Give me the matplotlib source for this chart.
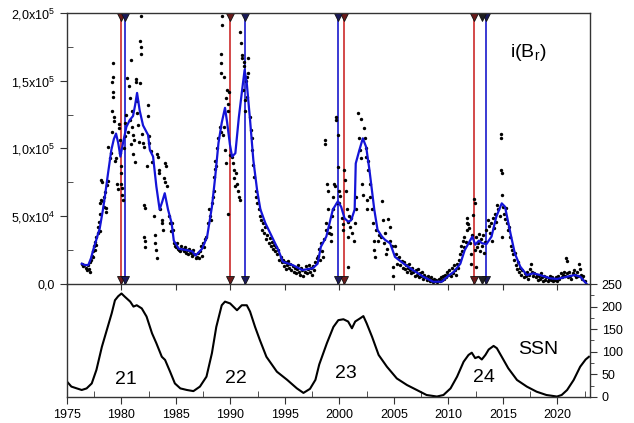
import numpy as np
import matplotlib
matplotlib.use('Agg')
import matplotlib.pyplot as plt
from matplotlib.ticker import MultipleLocator, FixedLocator, FixedFormatter

plt.rcParams['font.family'] = ['Liberation Sans', 'DejaVu Sans']
plt.rcParams['mathtext.fontset'] = 'custom'
plt.rcParams['mathtext.rm'] = 'Liberation Sans'
plt.rcParams['mathtext.it'] = 'Liberation Sans:italic'
plt.rcParams['mathtext.default'] = 'regular'

# ---------------- data ----------------
# i(Br) monthly dots (year, value in thousands)
dots_c21 = [(1976.4,15),(1976.5,13),(1976.6,14),(1976.7,12),(1976.8,10),(1976.9,14),(1977.0,11),(1977.1,9),(1977.1,16),(1977.2,18),(1977.3,21),(1977.35,24),(1977.4,20),(1977.5,28),(1977.55,25),(1977.6,31),(1977.65,35),(1977.7,29),(1977.8,38),(1977.85,42),(1977.9,46),(1978.0,39),(1978.0,52),(1978.05,60),(1978.1,62),(1978.15,77),(1978.2,75),(1978.3,61),(1978.35,64),(1978.4,57),(1978.5,68),(1978.55,56),(1978.6,53),(1978.65,73),(1978.75,76),(1978.8,101),(1978.9,93),(1979.0,97),(1979.1,112),(1979.15,128),(1979.2,163),(1979.2,153),(1979.15,149),(1979.25,142),(1979.25,138),(1979.3,123),(1979.35,120),(1979.45,91),(1979.5,93),(1979.6,74),(1979.65,70),(1979.75,118),(1979.8,115),(1979.85,106),(1979.9,97),(1979.95,87),(1980.0,82),(1980.0,74),(1980.05,71),(1980.05,66),(1980.1,62),(1980.2,100),(1980.3,109),(1980.35,119),(1980.45,125),(1980.5,152),(1980.6,112),(1980.7,146),(1980.75,137),(1980.8,121),(1980.85,103),(1980.9,165),(1980.95,128),(1981.0,116),(1981.05,110),(1981.1,96),(1981.15,106),(1981.2,90),(1981.3,151),(1981.35,149),(1981.4,135),(1981.45,126),(1981.5,117),(1981.6,105),(1981.7,148),(1981.72,179),(1981.75,175),(1981.8,170),(1981.78,198),(1981.9,111),(1982.0,104),(1982.05,101),(1982.1,58),(1982.12,56),(1982.1,35),(1982.12,32),(1982.15,27),(1982.3,87),(1982.4,132),(1982.45,124),(1982.5,109),(1982.55,104),(1982.7,98),(1982.8,90),(1983.0,50),(1983.05,36),(1983.1,30),(1983.2,25),(1983.22,19),(1983.3,96),(1983.35,94),(1983.4,84),(1983.45,82),(1983.55,55),(1983.7,47),(1983.75,45),(1983.8,40),(1983.9,78),(1983.95,75),(1984.0,89),(1984.05,87),(1984.2,72),(1984.4,50),(1984.45,45),(1984.5,39),(1984.6,45),(1984.7,40),(1984.8,30),(1984.9,28),(1985.0,27),(1985.1,30),(1985.2,26),(1985.3,25),(1985.4,24),(1985.5,28),(1985.6,26),(1985.7,24),(1985.8,27),(1985.9,23),(1986.0,25),(1986.1,22),(1986.2,26),(1986.3,24),(1986.4,23),(1986.5,21),(1986.6,25),(1986.7,22),(1986.8,19),(1986.9,20),(1987.0,23),(1987.1,19),(1987.2,24),(1987.3,28),(1987.4,21),(1987.5,30),(1987.6,27),(1987.7,33),(1987.8,35)]
dots_c22 = [(1987.95,45),(1988.0,55),(1988.1,50),(1988.2,47),(1988.3,60),(1988.4,64),(1988.45,69),(1988.5,79),(1988.55,85),(1988.6,91),(1988.7,87),(1988.8,100),(1988.9,108),(1989.0,116),(1989.1,112),(1989.1,156),(1989.12,163),(1989.15,170),(1989.2,198),(1989.22,191),(1989.3,110),(1989.4,153),(1989.45,116),(1989.5,99),(1989.55,89),(1989.6,137),(1989.7,143),(1989.75,133),(1989.8,128),(1989.8,52),(1989.9,142),(1990.0,95),(1990.15,94),(1990.2,89),(1990.3,84),(1990.35,78),(1990.4,72),(1990.55,82),(1990.6,74),(1990.7,69),(1990.8,64),(1990.85,62),(1990.9,186),(1991.0,178),(1991.05,169),(1991.1,167),(1991.15,143),(1991.2,164),(1991.25,161),(1991.3,128),(1991.35,136),(1991.4,150),(1991.5,153),(1991.55,138),(1991.6,167),(1991.65,156),(1991.8,123),(1991.85,114),(1991.95,108),(1992.0,99),(1992.1,88),(1992.2,79),(1992.3,69),(1992.35,64),(1992.45,60),(1992.6,55),(1992.7,50),(1992.8,47),(1992.9,40),(1993.0,45),(1993.1,38),(1993.2,42),(1993.3,33),(1993.4,36),(1993.5,30),(1993.6,34),(1993.7,28),(1993.8,31),(1993.9,26),(1994.0,29),(1994.1,24),(1994.2,27),(1994.3,22),(1994.4,25),(1994.5,18),(1994.6,20),(1994.7,16),(1994.8,18),(1994.9,13),(1995.0,16),(1995.1,11),(1995.2,14),(1995.3,17),(1995.4,12),(1995.5,15),(1995.6,10),(1995.7,13),(1995.8,9),(1995.9,12),(1996.0,8),(1996.1,11),(1996.2,14),(1996.3,9),(1996.4,7),(1996.5,12),(1996.6,10),(1996.7,6),(1996.8,9),(1996.9,13),(1997.0,8),(1997.1,11),(1997.2,14),(1997.3,9),(1997.4,12),(1997.5,7),(1997.6,13),(1997.7,10),(1997.8,16),(1997.9,19)]
dots_c23 = [(1998.0,21),(1998.1,26),(1998.2,18),(1998.3,30),(1998.4,24),(1998.5,20),(1998.6,33),(1998.7,106),(1998.72,103),(1998.75,40),(1998.8,45),(1998.9,74),(1998.92,69),(1998.95,55),(1999.0,38),(1999.1,42),(1999.2,37),(1999.25,32),(1999.3,50),(1999.4,64),(1999.45,55),(1999.55,74),(1999.6,72),(1999.65,123),(1999.68,121),(1999.75,60),(1999.86,110),(1999.9,86),(1999.95,69),(2000.0,60),(2000.1,65),(2000.2,49),(2000.3,44),(2000.35,40),(2000.45,84),(2000.5,77),(2000.6,69),(2000.7,55),(2000.75,46),(2000.8,35),(2000.82,12.5),(2000.9,50),(2001.0,42),(2001.1,49),(2001.2,38),(2001.3,32),(2001.4,45),(2001.5,64),(2001.55,55),(2001.7,126),(2001.8,108),(2001.85,99),(2001.95,122),(2002.0,93),(2002.1,74),(2002.2,66),(2002.3,115),(2002.35,108),(2002.4,100),(2002.45,94),(2002.5,55),(2002.55,62),(2002.6,91),(2002.65,84),(2002.8,74),(2002.85,64),(2003.0,55),(2003.07,45),(2003.15,32),(2003.2,25),(2003.25,20),(2003.4,40),(2003.5,32),(2003.6,36),(2003.8,35),(2003.9,61),(2004.0,47),(2004.1,30),(2004.2,38),(2004.3,22),(2004.4,26),(2004.5,48),(2004.6,42),(2004.65,32),(2004.8,28),(2004.9,12.5),(2004.95,6),(2005.1,28),(2005.2,22),(2005.3,15),(2005.4,19),(2005.5,20),(2005.6,14),(2005.7,17),(2005.8,12),(2005.9,16),(2006.0,11),(2006.1,14),(2006.2,9),(2006.3,12),(2006.4,15),(2006.5,10),(2006.6,8),(2006.7,12),(2006.8,9),(2006.9,6),(2007.0,10),(2007.1,7),(2007.2,11),(2007.3,5),(2007.4,8),(2007.5,6),(2007.6,9),(2007.7,4),(2007.8,7),(2007.9,5),(2008.0,3),(2008.1,6),(2008.2,4),(2008.3,2),(2008.4,5),(2008.5,3),(2008.6,1.5),(2008.7,4),(2008.8,2),(2008.9,3),(2009.0,1.5),(2009.1,4),(2009.2,2.5),(2009.3,5),(2009.4,3),(2009.5,6),(2009.6,4),(2009.7,7),(2009.8,5),(2009.9,9)]
dots_c24 = [(2010.0,7),(2010.1,10),(2010.2,6),(2010.3,12),(2010.4,8),(2010.5,14),(2010.6,10),(2010.7,7),(2010.8,15),(2010.9,12),(2011.0,18),(2011.1,22),(2011.15,28),(2011.25,24),(2011.3,32),(2011.4,27),(2011.45,35),(2011.6,31),(2011.7,49),(2011.72,45),(2011.75,40),(2011.8,44),(2011.9,41),(2012.0,30),(2012.05,22),(2012.1,15),(2012.2,36),(2012.3,51),(2012.37,63),(2012.4,60),(2012.45,25),(2012.5,12.5),(2012.55,35),(2012.6,27),(2012.7,30),(2012.8,37),(2012.9,24),(2013.0,33),(2013.1,28),(2013.2,36),(2013.3,23),(2013.4,31),(2013.5,40),(2013.6,47),(2013.7,43),(2013.8,38),(2013.9,45),(2014.0,32),(2014.1,49),(2014.2,41),(2014.3,52),(2014.4,46),(2014.5,58),(2014.6,55),(2014.76,50),(2014.8,111),(2014.82,108),(2014.85,84),(2014.88,82),(2014.9,66),(2014.95,35),(2015.0,57),(2015.1,52),(2015.2,48),(2015.3,56),(2015.4,45),(2015.5,40),(2015.6,42),(2015.7,35),(2015.75,28),(2015.8,25),(2015.9,22),(2016.0,18),(2016.1,23),(2016.2,14),(2016.3,11),(2016.4,16),(2016.5,9),(2016.6,12),(2016.7,7),(2016.8,10),(2016.9,5),(2017.0,8),(2017.1,6),(2017.2,9),(2017.3,4),(2017.4,7),(2017.5,11),(2017.6,15),(2017.7,9),(2017.8,6),(2017.9,8),(2018.0,5),(2018.1,7),(2018.2,3),(2018.3,6),(2018.4,4),(2018.5,8),(2018.6,5),(2018.7,2),(2018.8,6),(2018.9,3),(2019.0,5),(2019.1,2),(2019.2,4),(2019.3,6),(2019.4,3),(2019.5,5),(2019.6,2),(2019.7,4),(2019.8,3),(2019.9,5),(2020.0,2),(2020.1,6),(2020.2,4),(2020.3,8),(2020.4,5),(2020.5,7),(2020.6,9),(2020.7,6),(2020.8,19),(2020.85,17),(2020.9,8),(2021.0,5),(2021.1,9),(2021.2,6),(2021.3,4),(2021.4,8),(2021.5,10),(2021.6,7),(2021.7,5),(2021.8,9),(2021.9,6),(2022.0,15),(2022.1,11),(2022.2,7),(2022.3,4),(2022.4,6),(2022.5,2)]

# smoothed i(Br) (blue line), thousands
smooth_years = [1976.35,1976.6,1976.96,1977.2,1977.4,1977.7,1978.0,1978.3,1978.5,1978.77,1979.07,1979.3,1979.5,1979.7,1979.9,1980.14,1980.45,1980.76,1981.06,1981.25,1981.43,1981.67,1981.98,1982.44,1982.6,1982.9,1983.2,1983.5,1983.75,1983.97,1984.27,1984.6,1984.8,1985.26,1986.0,1986.5,1986.8,1987.4,1987.86,1988.3,1988.6,1988.9,1989.2,1989.5,1989.7,1989.95,1990.15,1990.45,1990.77,1991.07,1991.3,1991.5,1991.8,1992.1,1992.45,1992.75,1993.2,1993.8,1994.4,1994.8,1995.7,1996.6,1997.55,1998.0,1998.3,1998.8,1999.1,1999.4,1999.86,2000.16,2000.47,2000.8,2001.08,2001.4,2001.5,2001.84,2002.15,2002.46,2002.76,2003.2,2003.5,2003.9,2004.2,2004.66,2005.1,2005.9,2006.8,2007.7,2008.6,2009.4,2009.9,2010.5,2011.1,2011.5,2011.85,2012.2,2012.47,2012.8,2013.1,2013.5,2013.96,2014.4,2014.9,2015.2,2015.7,2016.1,2016.6,2017.2,2017.8,2018.4,2019.35,2019.97,2020.9,2021.6,2022.1,2022.7]
smooth_vals = [15,14,14,19,25,33,41,55,66,82,99,107,111,104,94,104,116,121,124,132,141,128,117,110,99,94,72,55,61,67,55,45,32,26,25,24,21,26,35,57,79,104,119,130,119,103,94,96.5,123,143,158,148,121,91.5,69,55,45,35,25,16.5,14,10.3,11.6,15,27.5,35,45,55,61,57,48.5,46,47,55,89,99,107.5,101,84,55,40,35,32.5,30,20,15,10,5.4,1.7,1.7,5.4,9,15,25,30,35,29,32,30,29.5,35,49.7,59.5,57,37.4,22.6,12.8,6.6,7.9,6.6,4.2,3.7,5.4,6.6,5.4,0]

# sunspot number
ssn_years = [1975.0,1975.4,1975.9,1976.35,1976.8,1977.27,1977.7,1978.2,1978.65,1979.1,1979.4,1979.7,1980.0,1980.3,1980.8,1981.1,1981.4,1981.86,1982.3,1982.8,1983.2,1983.7,1984.0,1984.46,1984.9,1985.4,1986.0,1986.6,1987.2,1987.8,1988.3,1988.7,1989.2,1989.5,1989.97,1990.6,1991.04,1991.5,1991.8,1992.26,1992.7,1993.3,1994.26,1995.2,1996.1,1996.7,1997.3,1997.8,1998.15,1998.85,1999.45,1999.9,2000.37,2000.8,2001.15,2001.45,2001.9,2002.2,2002.5,2003.0,2003.6,2004.36,2005.27,2006.2,2007.1,2008.0,2008.95,2009.55,2010.2,2010.8,2011.4,2011.85,2012.15,2012.46,2012.77,2013.07,2013.4,2013.7,2014.15,2014.45,2014.9,2015.5,2016.3,2017.2,2018.1,2019.0,2019.97,2020.4,2020.9,2021.5,2022.1,2022.6,2022.9]
ssn_vals = [34,23,19,15.5,19,30,60,111,148,185,214,223,229,222,211,200,203,196,178,141,119,89,82,56,30,19,15.5,13,23,45,97,155,203,211,207,192,203,203,189,155,126,89,56,38,19,9,18,38,72,119,155,170,172,167,152,167,174,179,163,133,93,67,41,26.5,15.5,4.4,1,4.4,19,45,78,93,98,86,89,83,93,105,113,108,89,63.5,37.6,23,11.7,4.4,1,4.4,15.5,37.6,67,83,89]

red_years = [1979.93, 1989.97, 2000.44, 2012.37]
blue_years = [1980.33, 1991.30, 1999.85, 2013.47]
extra_marker_years = [2013.07]

cycle_labels = ['21', '22', '23', '24']
cycle_label_x = [1980.4, 1990.5, 2000.6, 2013.3]
cycle_label_y = [38, 40, 51, 44]

ytick_vals = [0, 5e4, 1e5, 1.5e5, 2e5]
ytick_labels = ['0,0', '5,0x10$^4$', '1,0x10$^5$', '1,5x10$^5$', '2,0x10$^5$']

# ---------------- figure ----------------
fig = plt.figure(figsize=(6.34, 4.23), dpi=100)
ax2 = fig.add_axes([0.1057, 0.0615, 0.8249, 0.2671])
ax1 = fig.add_axes([0.1057, 0.3286, 0.8249, 0.6407])
ax2.patch.set_visible(False)
ax1.patch.set_visible(False)

XMIN, XMAX = 1975, 2023
YMAX = 2e5
spine_c = '#333333'

alld = dots_c21 + dots_c22 + dots_c23 + dots_c24
dx = np.array([d[0] for d in alld])
dy = np.array([d[1] for d in alld]) * 1e3

RED = '#d03a3a'
BLUE = '#2b2bd0'

for x in red_years:
    ax1.plot([x, x], [0, YMAX], color=RED, lw=1.3, zorder=2)
for x in blue_years:
    ax1.plot([x, x], [0, YMAX], color=BLUE, lw=1.3, zorder=2)

ax1.scatter(dx, dy, s=6, color='black', zorder=3, linewidths=0)
ax1.plot(smooth_years, np.array(smooth_vals) * 1e3, color='#1414d8', lw=1.6, zorder=4)

off = 3000
for xs, fc in [(red_years, '#6a1a1a'), (blue_years, '#1a1a5a'), (extra_marker_years, '#202020')]:
    ax1.plot(xs, [YMAX - off] * len(xs), ls='none', marker='v', ms=6,
             mfc=fc, mec='#111111', mew=0.6, zorder=5, clip_on=False)
    ax1.plot(xs, [off] * len(xs), ls='none', marker='v', ms=6,
             mfc=fc, mec='#111111', mew=0.6, zorder=5, clip_on=False)

ax1.text(2017.3, 171e3, 'i(B$_r$)', fontsize=14, ha='center', va='center')

ax1.set_xlim(XMIN, XMAX)
ax1.set_ylim(0, YMAX)
ax1.xaxis.set_major_locator(MultipleLocator(5))
ax1.tick_params(axis='x', which='major', direction='out', length=4, labelbottom=False, color=spine_c)
ax1.yaxis.set_major_locator(FixedLocator(ytick_vals))
ax1.yaxis.set_major_formatter(FixedFormatter(ytick_labels))
ax1.yaxis.set_minor_locator(MultipleLocator(2.5e4))
ax1.tick_params(axis='y', which='major', direction='out', length=5, labelsize=9, color=spine_c)
ax1.tick_params(axis='y', which='minor', direction='in', length=4, color=spine_c)
for s in ax1.spines.values():
    s.set_color(spine_c)
    s.set_linewidth(1.0)
    s.set_zorder(6)

# bottom panel
ax2.plot(ssn_years, ssn_vals, color='black', lw=1.5)
ax2.set_xlim(XMIN, XMAX)
ax2.set_ylim(0, 250)
ax2.xaxis.set_major_locator(MultipleLocator(5))
ax2.xaxis.set_minor_locator(MultipleLocator(2.5))
ax2.tick_params(axis='x', which='major', direction='out', length=5, labelsize=9, color=spine_c)
ax2.tick_params(axis='x', which='minor', direction='in', length=4, color=spine_c)
ax2.yaxis.tick_right()
ax2.yaxis.set_major_locator(MultipleLocator(50))
ax2.yaxis.set_minor_locator(MultipleLocator(25))
ax2.tick_params(axis='y', which='major', direction='out', length=5, labelsize=9, color=spine_c)
ax2.tick_params(axis='y', which='minor', direction='out', length=3, color=spine_c)
ax2.spines['top'].set_visible(False)
for s in ['left', 'right', 'bottom']:
    ax2.spines[s].set_color(spine_c)
    ax2.spines[s].set_linewidth(1.0)

for lab, x, y in zip(cycle_labels, cycle_label_x, cycle_label_y):
    ax2.text(x, y, lab, fontsize=14, ha='center', va='center')
ax2.text(2018.2, 104, 'SSN', fontsize=14, ha='center', va='center')

fig.savefig('out.png', dpi=100, facecolor='white')
